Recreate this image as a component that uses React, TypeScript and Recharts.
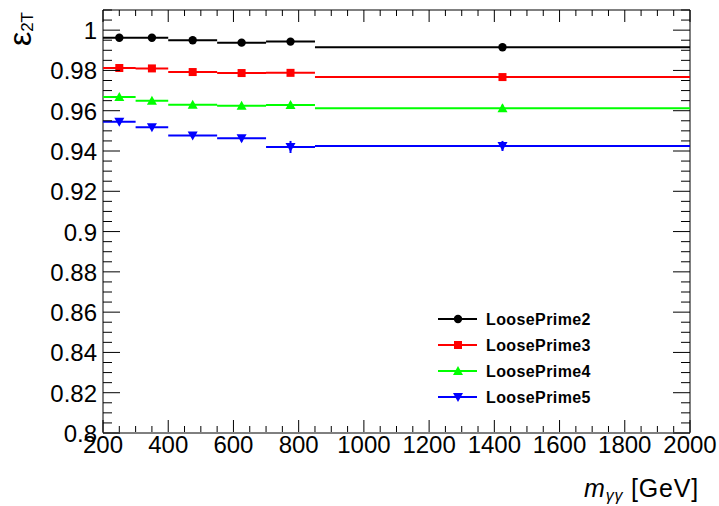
import { ComposedChart, Line, Scatter, XAxis, YAxis, ReferenceArea, ErrorBar } from "recharts";

// bins in m_yy [GeV]
const binEdges = [200, 300, 400, 550, 700, 850, 2000];
const binCenters = [250, 350, 475, 625, 775, 1425];

const loosePrime2 = [0.9962, 0.9962, 0.995, 0.9938, 0.9943, 0.9915];
const loosePrime3 = [0.9812, 0.981, 0.9792, 0.9787, 0.9788, 0.9767];
const loosePrime4 = [0.9668, 0.965, 0.963, 0.9625, 0.9628, 0.9612];
const loosePrime5 = [0.9545, 0.9518, 0.9477, 0.9463, 0.942, 0.9425];

const loosePrime2Err = [0.0005, 0.0005, 0.0005, 0.0006, 0.0006, 0.0008];
const loosePrime3Err = [0.0008, 0.0008, 0.0008, 0.001, 0.001, 0.0012];
const loosePrime4Err = [0.001, 0.001, 0.001, 0.0012, 0.0015, 0.0018];
const loosePrime5Err = [0.0012, 0.0012, 0.0012, 0.0015, 0.003, 0.0025];

const seriesNames = ["LoosePrime2", "LoosePrime3", "LoosePrime4", "LoosePrime5"];
const seriesColors = ["#000000", "#ff0000", "#00ff00", "#0000ff"];
const seriesMarkers = ["circle", "square", "triangleUp", "triangleDown"];

const xMajorTicks = [200, 400, 600, 800, 1000, 1200, 1400, 1600, 1800, 2000];
const yMajorTicks = [0.8, 0.82, 0.84, 0.86, 0.88, 0.9, 0.92, 0.94, 0.96, 0.98, 1];

const W = 719;
const H = 506;
// axes take 1px each (a 0px axis is not drawn)
const margin = { top: 10, right: 29, bottom: 72, left: 102 };
const plotTop = margin.top;
const plotRight = W - margin.right;
const font = "'Liberation Sans', Arial, Helvetica, sans-serif";

const xTicks: number[] = [];
for (let v = 200; v <= 2000; v += 50) xTicks.push(v);
const yTicks: number[] = [];
for (let i = 0; i <= 42; i++) yTicks.push(Number((0.8 + i * 0.005).toFixed(3)));

const allValues = [loosePrime2, loosePrime3, loosePrime4, loosePrime5];
const allErrors = [loosePrime2Err, loosePrime3Err, loosePrime4Err, loosePrime5Err];

// horizontal segment per bin, broken between bins
function segments(values: number[]) {
  const out: { x: number; y: number | null }[] = [];
  values.forEach((v, i) => {
    out.push({ x: binEdges[i], y: v });
    out.push({ x: binEdges[i + 1], y: v });
    out.push({ x: binEdges[i + 1], y: null });
  });
  return out;
}

function points(values: number[], errs: number[]) {
  return binCenters.map((x, i) => ({ x, y: values[i], err: errs[i] }));
}

function Marker({ kind, cx, cy, color }: { kind: string; cx: number; cy: number; color: string }) {
  if (kind === "circle") return <circle cx={cx} cy={cy} r={4.2} fill={color} />;
  if (kind === "square") return <rect x={cx - 4} y={cy - 4} width={8} height={8} fill={color} />;
  if (kind === "triangleUp")
    return <polygon points={`${cx},${cy - 5} ${cx - 5},${cy + 4} ${cx + 5},${cy + 4}`} fill={color} />;
  return <polygon points={`${cx},${cy + 5} ${cx - 5},${cy - 4} ${cx + 5},${cy - 4}`} fill={color} />;
}

function XTick(props: any) {
  const { x, payload } = props;
  const y = props.y - 1;
  const v = payload.value;
  const major = xMajorTicks.includes(v);
  const len = major ? 12 : 6;
  return (
    <g>
      <line x1={x} x2={x} y1={y} y2={y - len} stroke="#000" />
      <line x1={x} x2={x} y1={plotTop} y2={plotTop + len} stroke="#000" />
      {major && (
        <text x={x} y={y + 21} textAnchor="middle" fontSize={24} fontFamily={font} fill="#000">
          {v}
        </text>
      )}
    </g>
  );
}

function YTick(props: any) {
  const { x, y, payload } = props;
  const v = payload.value;
  const major = yMajorTicks.some((m) => Math.abs(m - v) < 1e-6);
  const len = major ? 17 : 9;
  return (
    <g>
      <line x1={x} x2={x + len} y1={y} y2={y} stroke="#000" />
      <line x1={plotRight} x2={plotRight - len} y1={y} y2={y} stroke="#000" />
      {major && (
        <text x={x - 6} y={y + 9} textAnchor="end" fontSize={24} fontFamily={font} fill="#000">
          {String(v)}
        </text>
      )}
    </g>
  );
}

export default function App() {
  const legendRows = [319, 345, 371, 397];
  return (
    <div style={{ position: "absolute", left: 0, top: 0, width: W, height: H, background: "#fff" }}>
      <ComposedChart width={W} height={H} margin={margin}>
        <XAxis
          type="number"
          dataKey="x"
          domain={[200, 2000]}
          ticks={xTicks}
          interval={0}
          height={1}
          tickSize={0}
          tickMargin={0}
          axisLine={false}
          tickLine={false}
          tick={<XTick />}
          allowDataOverflow
        />
        <YAxis
          type="number"
          dataKey="y"
          domain={[0.8, 1.01]}
          ticks={yTicks}
          interval={0}
          width={1}
          tickSize={0}
          tickMargin={0}
          axisLine={false}
          tickLine={false}
          tick={<YTick />}
          allowDataOverflow
        />
        <ReferenceArea x1={200} x2={2000} y1={0.8} y2={1.01} fill="none" stroke="#000" strokeWidth={1} />
        {allValues.map((vals, i) => (
          <Line
            key={"l" + i}
            data={segments(vals)}
            dataKey="y"
            stroke={seriesColors[i]}
            strokeWidth={2}
            dot={false}
            activeDot={false}
            connectNulls={false}
            isAnimationActive={false}
          />
        ))}
        {allValues.map((vals, i) => (
          <Scatter
            key={"s" + i}
            data={points(vals, allErrors[i])}
            dataKey="y"
            isAnimationActive={false}
            shape={(p: any) => <Marker kind={seriesMarkers[i]} cx={p.cx} cy={p.cy} color={seriesColors[i]} />}
          >
            <ErrorBar dataKey="err" direction="y" width={0} stroke={seriesColors[i]} strokeWidth={2} isAnimationActive={false} />
          </Scatter>
        ))}
      </ComposedChart>
      <svg width={W} height={H} style={{ position: "absolute", left: 0, top: 0, pointerEvents: "none" }}>
        {seriesNames.map((name, i) => (
          <g key={name}>
            <line x1={438} x2={477} y1={legendRows[i]} y2={legendRows[i]} stroke={seriesColors[i]} strokeWidth={2} />
            <Marker kind={seriesMarkers[i]} cx={458} cy={legendRows[i]} color={seriesColors[i]} />
            <text x={486} y={legendRows[i] + 6} fontSize={16} fontWeight="bold" fontFamily={font} fill="#000" letterSpacing={0.4}>
              {name}
            </text>
          </g>
        ))}
        <text x={699} y={497} textAnchor="end" fontFamily={font} fontSize={25} fill="#000" letterSpacing={0.8}>
          <tspan fontStyle="italic">m</tspan>
          <tspan fontStyle="italic" fontSize={16} dy={4}>γγ</tspan>
          <tspan dy={-4}> [GeV]</tspan>
        </text>
        <text transform="translate(31,12) rotate(-90)" textAnchor="end" fontFamily={font} fill="#000">
          <tspan fontSize={32}>ε</tspan>
          <tspan fontSize={17} dy={2}>2T</tspan>
        </text>
      </svg>
    </div>
  );
}
